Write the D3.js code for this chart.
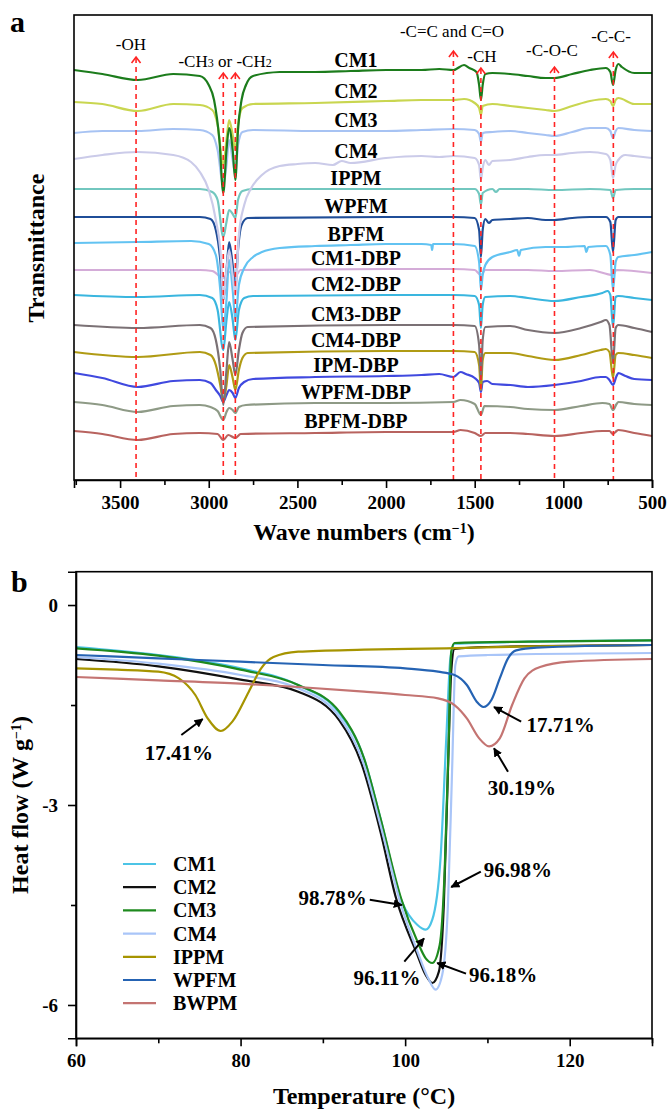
<!DOCTYPE html>
<html>
<head>
<meta charset="utf-8">
<script src="https://cdn.jsdelivr.net/npm/d3@7"></script>
<style>
  body { margin: 0; background: #fff; }
  svg text { font-family: "Liberation Serif", "Times New Roman", serif; }
</style>
</head>
<body>
<svg id="fig" width="667" height="1110"></svg>
<script>
// ---------- panel a : FTIR spectra (wave number, transmittance a.u.) ----------
const ftirNames = ["CM1", "CM2", "CM3", "CM4", "IPPM", "WPFM", "BPFM",
  "CM1-DBP", "CM2-DBP", "CM3-DBP", "CM4-DBP", "IPM-DBP", "WPFM-DBP", "BPFM-DBP"];
const ftirColors = ["#1c7c1c", "#c9d650", "#a7c3f3", "#cbcbe9", "#72c7bf", "#1f4d98", "#62c3f2",
  "#d4acd8", "#3ab6df", "#7b7175", "#b09b14", "#4049df", "#8e9a86", "#b8635f"];

const sCM1 = [[3760,410],[3600,406],[3400,400],[3200,406],[3050,404],[3000,395],[2970,380],[2940,340],[2918,287],[2900,330],[2885,352],[2865,330],[2850,300],[2835,350],[2815,380],[2790,395],[2750,404],[2600,408],[2400,408],[2200,409],[2000,410],[1800,410],[1700,411],[1620,410],[1560,415],[1530,412],[1490,408],[1475,395],[1465,380],[1455,395],[1440,406],[1400,407],[1300,406],[1200,404],[1100,402],[1050,402],[950,406],[850,410],[760,412],[735,408],[720,395],[705,410],[690,416],[670,413],[600,407],[500,407]];
const sCM2 = [[3760,378],[3600,376],[3400,369],[3200,376],[3050,375],[2980,370],[2950,355],[2918,315],[2900,340],[2885,360],[2865,345],[2850,330],[2835,355],[2810,372],[2750,376],[2400,377],[2000,379],[1800,380],[1620,380],[1560,381],[1500,377],[1475,372],[1465,365],[1455,374],[1400,376],[1300,374],[1200,372],[1100,370],[1050,369],[950,374],[850,379],[760,381],[735,379],[720,374],[705,380],[690,382],[600,376],[500,376]];
const sCM3 = [[3760,347],[3600,349],[3400,349],[3200,351],[3050,350],[2980,345],[2950,330],[2918,295],[2900,315],[2885,340],[2865,320],[2850,305],[2835,335],[2810,348],[2750,350],[2400,349],[2000,349],[1800,350],[1620,351],[1500,350],[1475,346],[1465,338],[1455,347],[1400,348],[1300,349],[1200,347],[1100,345],[1050,344],[950,348],[850,352],[760,352],[735,349],[720,342],[705,349],[690,352],[600,350],[500,349]];
const sCM4 = [[3760,321],[3600,325],[3400,328],[3200,325],[3100,318],[3050,308],[3000,290],[2960,260],[2930,220],[2918,180],[2900,210],[2885,230],[2865,205],[2850,185],[2830,245],[2800,275],[2760,292],[2700,305],[2600,314],[2500,316],[2400,317],[2300,315],[2250,319],[2200,317],[2000,322],[1800,324],[1700,323],[1620,324],[1500,322],[1475,315],[1465,300],[1455,312],[1440,320],[1420,315],[1400,319],[1300,320],[1200,323],[1100,325],[1050,325],[950,327],[850,328],[760,326],[735,320],[720,302],[705,315],[690,320],[650,325],[600,324],[500,322]];
const sIPPM = [[3760,291],[3400,291],[3050,291],[2980,288],[2950,280],[2918,243],[2900,258],[2885,270],[2865,266],[2850,262],[2835,280],[2810,289],[2750,291],[2000,291],[1620,291],[1500,291],[1475,286],[1465,275],[1455,287],[1400,291],[1380,288],[1360,291],[1200,291],[1050,290],[850,291],[735,290],[720,282],[705,290],[600,291],[500,291]];
const sWPFM = [[3760,263],[3400,263],[3050,263],[2990,261],[2960,250],[2935,220],[2918,180],[2900,210],[2885,238],[2865,215],[2850,190],[2835,230],[2815,255],[2780,262],[2000,263],[1620,263],[1500,262],[1475,250],[1465,223],[1455,250],[1440,261],[1420,257],[1400,260],[1300,261],[1200,262],[1100,260],[1050,260],[950,262],[850,263],[760,263],[735,258],[720,228],[705,260],[690,263],[500,263]];
const sBPFM = [[3760,237],[3400,238],[3100,239],[3000,236],[2960,225],[2935,190],[2918,150],[2900,180],[2885,220],[2865,190],[2850,160],[2830,195],[2800,212],[2750,223],[2700,228],[2600,232],[2400,234],[2200,235],[2000,236],[1800,236],[1745,235],[1740,230],[1735,236],[1620,236],[1500,234],[1475,218],[1465,190],[1455,205],[1440,215],[1400,223],[1300,228],[1260,230],[1250,224],[1240,230],[1100,233],[1000,233],[880,234],[870,228],[860,233],[760,234],[735,225],[720,190],[705,218],[690,223],[600,225],[500,228]];
const sCM1DBP = [[3760,210],[3400,210],[3050,210],[2980,209],[2918,202],[2885,208],[2850,204],[2820,210],[2000,211],[1620,211],[1500,210],[1465,205],[1440,210],[1200,210],[1050,209],[850,210],[720,205],[700,210],[500,207]];
const sCM2DBP = [[3760,185],[3400,183],[3050,185],[2980,182],[2950,170],[2918,130],[2900,160],[2885,178],[2865,160],[2850,140],[2830,170],[2800,182],[2750,184],[2000,185],[1620,185],[1500,184],[1475,175],[1465,152],[1455,175],[1440,183],[1300,184],[1200,182],[1050,179],[900,183],[780,187],[750,189],[735,185],[720,153],[705,183],[690,184],[600,182],[500,180]];
const sCM3DBP = [[3760,155],[3400,152],[3050,155],[2990,152],[2960,140],[2935,110],[2918,75],[2900,110],[2885,138],[2865,120],[2850,105],[2830,130],[2810,147],[2780,153],[2000,155],[1620,155],[1500,154],[1475,135],[1465,100],[1455,140],[1440,153],[1300,154],[1200,150],[1050,147],[900,152],[790,158],[760,160],[740,155],[720,117],[705,152],[690,155],[600,152],[500,148]];
const sCM4DBP = [[3760,128],[3400,123],[3050,128],[2990,125],[2960,115],[2935,95],[2918,78],[2900,95],[2885,115],[2865,102],[2850,90],[2830,110],[2810,122],[2780,127],[2000,129],[1620,129],[1500,128],[1475,115],[1465,90],[1455,120],[1440,127],[1300,127],[1200,124],[1050,120],[900,125],[790,130],[760,131],[740,128],[720,102],[705,125],[690,127],[600,125],[500,122]];
const sIPMDBP = [[3760,107],[3600,102],[3400,93],[3200,99],[3050,100],[2990,97],[2960,90],[2935,84],[2918,78],[2900,85],[2885,90],[2865,87],[2850,82],[2830,92],[2800,98],[2750,101],[2400,103],[2000,104],[1800,105],[1700,106],[1620,103],[1580,108],[1550,106],[1500,102],[1475,97],[1465,88],[1455,98],[1430,99],[1400,96],[1300,95],[1200,93],[1050,95],[900,99],[790,103],[760,103],[740,100],[720,95],[700,104],[690,107],[650,104],[600,101],[500,100]];
const sWPFMDBP = [[3760,78],[3600,75],[3400,68],[3200,74],[3050,75],[2990,73],[2950,69],[2918,60],[2900,68],[2885,72],[2865,70],[2850,67],[2830,73],[2790,75],[2400,77],[2000,77],[1620,78],[1580,80],[1500,76],[1465,65],[1445,74],[1300,73],[1200,71],[1050,70],[900,74],[780,77],[740,76],[720,70],[700,76],[690,78],[600,76],[500,75]];
const sBPFMDBP = [[3760,49],[3600,46],[3400,40],[3200,46],[3050,47],[2950,46],[2918,40],[2890,45],[2850,42],[2820,46],[2400,47],[2000,48],[1620,48],[1580,50],[1500,47],[1465,44],[1440,47],[1300,47],[1200,46],[1050,44],[900,47],[780,49],[740,49],[720,46],[700,49],[690,50],[600,47],[500,44]];

const ftirSeries = [sCM1, sCM2, sCM3, sCM4, sIPPM, sWPFM, sBPFM,
  sCM1DBP, sCM2DBP, sCM3DBP, sCM4DBP, sIPMDBP, sWPFMDBP, sBPFMDBP];

const xTicksA = [3500, 3000, 2500, 2000, 1500, 1000, 500];
const xMinorA = [3750, 3250, 2750, 2250, 1750, 1250, 750];

// band markers: wave number, arrow tip (a.u.)
const bandWn = [3410, 2918, 2850, 1620, 1465, 1050, 718];
const bandTip = [423, 407, 407, 429, 412, 413, 428];
// band labels: text, wave number of centre, baseline (a.u.)
const bandLabels = [
  { t: ["-OH"], wn: 3439, v: 430 },
  { t: ["-CH", "3", " or -CH", "2"], wn: 2908, v: 413 },
  { t: ["-C=C and C=O"], wn: 1628, v: 443 },
  { t: ["-CH"], wn: 1459, v: 418 },
  { t: ["-C-O-C"], wn: 1064, v: 424 },
  { t: ["-C-C-"], wn: 731, v: 438 }
];

// ---------- panel b : DSC curves (temperature C, heat flow W/g) ----------
const dscNames = ["CM1", "CM2", "CM3", "CM4", "IPPM", "WPFM", "BWPM"];
const dscColors = ["#4cc4e6", "#111111", "#1e8a1e", "#a9c5f8", "#a69400", "#2563b3", "#c47472"];

const dCM1 = [[60,-0.63],[70,-0.75],[80,-0.95],[87,-1.2],[92,-1.62],[95,-2.3],[97,-3.2],[99.6,-4.45],[101.5,-4.8],[102.5,-4.87],[103.3,-4.72],[104.3,-3.8],[105,-2.0],[105.5,-0.8],[106,-0.58],[115,-0.55],[130,-0.53]];
const dCM2 = [[60,-0.81],[70,-0.92],[80,-1.12],[87,-1.3],[92,-1.73],[94.7,-2.38],[97,-3.4],[98.9,-4.4],[101.4,-5.22],[102.5,-5.55],[103.3,-5.67],[104.1,-5.5],[104.7,-4.5],[105.2,-2.5],[105.6,-1.0],[106,-0.66],[110,-0.63],[130,-0.6]];
const dCM3 = [[60,-0.65],[70,-0.76],[80,-0.97],[87,-1.2],[92,-1.6],[95,-2.3],[97,-3.2],[99.5,-4.4],[101.5,-5.05],[102.5,-5.3],[103.3,-5.37],[104.2,-5.1],[104.8,-4.0],[105.3,-2.0],[105.6,-0.7],[106,-0.57],[115,-0.55],[130,-0.53]];
const dCM4 = [[60,-0.78],[70,-0.88],[80,-1.05],[87,-1.25],[92,-1.68],[95,-2.4],[97,-3.3],[99.5,-4.5],[101.5,-5.2],[102.8,-5.6],[103.7,-5.77],[104.5,-5.55],[105.2,-4.5],[105.7,-2.5],[106.1,-0.9],[106.5,-0.77],[110,-0.75],[130,-0.72]];
const dIPPM = [[60,-0.95],[65,-0.97],[70,-1.0],[72.5,-1.1],[74.5,-1.35],[76,-1.7],[77.6,-1.89],[79,-1.75],[81,-1.3],[82.5,-0.95],[84,-0.78],[87,-0.7],[95,-0.67],[105,-0.65],[115,-0.62],[130,-0.6]];
const dWPFM = [[60,-0.75],[70,-0.8],[80,-0.85],[90,-0.9],[100,-0.95],[104,-1.0],[106,-1.05],[107.5,-1.2],[108.7,-1.45],[109.5,-1.53],[110.5,-1.42],[111.5,-1.1],[112.5,-0.8],[113.5,-0.68],[116,-0.64],[130,-0.6]];
const dBWPM = [[60,-1.08],[70,-1.13],[80,-1.18],[87,-1.23],[95,-1.3],[100,-1.35],[104,-1.4],[106,-1.5],[107.5,-1.7],[109,-2.0],[110.2,-2.12],[111.5,-2.0],[113,-1.5],[114.5,-1.1],[116.4,-0.93],[120,-0.85],[130,-0.81]];
const dscSeries = [dCM1, dCM2, dCM3, dCM4, dIPPM, dWPFM, dBWPM];

const xTicksB = [60, 80, 100, 120];
const xMinorB = [70, 90, 110, 130];
const yTicksB = [0, -3, -6];
const yMinorB = [-1.5, -4.5];

// enthalpy annotations: label, label centre, arrow tail, arrow head (data units)
const dscNotes = [
  { t: "17.41%", x: 72.5, y: -2.33, x1: 72.8, y1: -1.95, x2: 75.4, y2: -1.71 },
  { t: "17.71%", x: 118.9, y: -1.9, x1: 114.1, y1: -1.75, x2: 110.8, y2: -1.53 },
  { t: "30.19%", x: 114.2, y: -2.85, x1: 112.5, y1: -2.5, x2: 110.8, y2: -2.15 },
  { t: "96.98%", x: 113.7, y: -4.08, x1: 109.2, y1: -4.0, x2: 105.6, y2: -4.23 },
  { t: "98.78%", x: 91.2, y: -4.5, x1: 95.7, y1: -4.42, x2: 99.6, y2: -4.5 },
  { t: "96.11%", x: 97.8, y: -5.7, x1: 99.9, y1: -5.35, x2: 102.3, y2: -5.0 },
  { t: "96.18%", x: 111.9, y: -5.65, x1: 107.4, y1: -5.53, x2: 103.9, y2: -5.37 }
];

// ---------------------------------------------------------------------------
const svg = d3.select("#fig");
const plainNum = d => String(d);   // keep hyphen minus like the original

// ===== panel a =====
const xA = d3.scaleLinear().domain([3760, 500]).range([74, 652]);
const yA = d3.scaleLinear().domain([0, 465]).range([480, 15]);

const lineA = d3.line()
  .x(d => xA(d[0]))
  .y(d => yA(d[1]))
  .curve(d3.curveMonotoneX);

const gA = svg.append("g");

// spectra, bottom one first so the top ones stay in front
for (let i = ftirSeries.length - 1; i >= 0; i--) {
  gA.append("path")
    .attr("d", lineA(ftirSeries[i]))
    .attr("fill", "none")
    .attr("stroke", ftirColors[i])
    .attr("stroke-width", 2.2)
    .attr("stroke-linejoin", "round");
}

// value of a series at a given wave number (for label placement)
function valueAt(s, wn) {
  for (let k = 0; k < s.length - 1; k++) {
    if (s[k][0] >= wn && s[k + 1][0] <= wn) {
      const f = (s[k][0] - wn) / (s[k][0] - s[k + 1][0]);
      return s[k][1] + f * (s[k + 1][1] - s[k][1]);
    }
  }
  return s[0][1];
}

ftirNames.forEach((n, i) => {
  gA.append("text")
    .attr("x", xA(2170))
    .attr("y", yA(valueAt(ftirSeries[i], 2170)) - 11)
    .attr("dy", "0.35em")
    .attr("text-anchor", "middle")
    .attr("font-size", 20)
    .attr("font-weight", "bold")
    .text(n);
});

// red dashed band markers
bandWn.forEach((wn, i) => {
  const x = xA(wn), top = yA(bandTip[i]);
  gA.append("line")
    .attr("x1", x).attr("x2", x)
    .attr("y1", top + 1).attr("y2", yA(0))
    .attr("stroke", "#ff2424")
    .attr("stroke-width", 1.6)
    .attr("stroke-dasharray", "5,4");
  gA.append("path")
    .attr("d", `M${x - 4.5},${top + 6} L${x},${top} L${x + 4.5},${top + 6}`)
    .attr("fill", "none")
    .attr("stroke", "#ff2424")
    .attr("stroke-width", 1.6);
});

bandLabels.forEach(b => {
  const t = gA.append("text")
    .attr("x", xA(b.wn))
    .attr("y", yA(b.v))
    .attr("text-anchor", "middle")
    .attr("font-size", 17);
  b.t.forEach(s => {
    const sub = (s === "3" || s === "2");
    t.append("tspan")
      .attr("font-size", sub ? 12 : 17)
      .text(s);
  });
});

// frame and axis
gA.append("rect")
  .attr("x", 74).attr("y", 15)
  .attr("width", 578).attr("height", 465)
  .attr("fill", "none").attr("stroke", "#000").attr("stroke-width", 1.6);

gA.append("g")
  .attr("transform", `translate(0,${yA(0)})`)
  .call(d3.axisBottom(xA).tickValues(xTicksA).tickSize(8).tickPadding(8).tickFormat(plainNum));
gA.append("g")
  .attr("transform", `translate(0,${yA(0)})`)
  .call(d3.axisBottom(xA).tickValues(xMinorA).tickSize(5).tickFormat(""))
  .call(g => g.select(".domain").remove());

// ===== panel b =====
const xB = d3.scaleLinear().domain([60, 130]).range([76, 652]);
const yB = d3.scaleLinear().domain([-6.5, 0.5]).range([1038.3, 571.7]);

const lineB = d3.line()
  .x(d => xB(d[0]))
  .y(d => yB(d[1]))
  .curve(d3.curveMonotoneX);

const gB = svg.append("g");

dscSeries.forEach((s, i) => {
  gB.append("path")
    .attr("d", lineB(s))
    .attr("fill", "none")
    .attr("stroke", dscColors[i])
    .attr("stroke-width", 2.2);
});

svg.append("defs").append("marker")
  .attr("id", "head")
  .attr("viewBox", "0 0 10 10")
  .attr("refX", 9).attr("refY", 5)
  .attr("markerWidth", 4.5).attr("markerHeight", 4.5)
  .attr("markerUnits", "strokeWidth")
  .attr("orient", "auto")
  .append("path")
  .attr("d", "M0,0 L10,5 L0,10 Z")
  .attr("fill", "#000");

dscNotes.forEach(n => {
  gB.append("line")
    .attr("x1", xB(n.x1)).attr("y1", yB(n.y1))
    .attr("x2", xB(n.x2)).attr("y2", yB(n.y2))
    .attr("stroke", "#000")
    .attr("stroke-width", 2)
    .attr("marker-end", "url(#head)");
  gB.append("text")
    .attr("x", xB(n.x))
    .attr("y", yB(n.y))
    .attr("text-anchor", "middle")
    .attr("font-size", 21)
    .attr("font-weight", "bold")
    .text(n.t);
});

// legend
dscNames.forEach((n, i) => {
  const y = 864 + i * 23.2;
  gB.append("line")
    .attr("x1", 123).attr("x2", 156)
    .attr("y1", y).attr("y2", y)
    .attr("stroke", dscColors[i]).attr("stroke-width", 2.2);
  gB.append("text")
    .attr("x", 173).attr("y", y + 7)
    .attr("font-size", 20).attr("font-weight", "bold")
    .text(n);
});

gB.append("rect")
  .attr("x", 76).attr("y", yB(0.5))
  .attr("width", 576).attr("height", yB(-6.5) - yB(0.5))
  .attr("fill", "none").attr("stroke", "#000").attr("stroke-width", 1.6);

gB.append("g")
  .attr("transform", `translate(0,${yB(-6.5)})`)
  .call(d3.axisBottom(xB).tickValues(xTicksB).tickSize(8).tickPadding(7).tickFormat(plainNum));
gB.append("g")
  .attr("transform", `translate(0,${yB(-6.5)})`)
  .call(d3.axisBottom(xB).tickValues(xMinorB).tickSize(5).tickFormat(""))
  .call(g => g.select(".domain").remove());
gB.append("g")
  .attr("transform", `translate(${xB(60)},0)`)
  .call(d3.axisLeft(yB).tickValues(yTicksB).tickSize(8).tickPadding(10).tickFormat(plainNum));
gB.append("g")
  .attr("transform", `translate(${xB(60)},0)`)
  .call(d3.axisLeft(yB).tickValues(yMinorB).tickSize(5).tickFormat(""))
  .call(g => g.select(".domain").remove());

// shared axis styling
svg.selectAll(".domain").attr("stroke-width", 1.6);
svg.selectAll(".tick line").attr("stroke-width", 1.6);
svg.selectAll(".tick text")
  .attr("font-size", 19)
  .attr("font-weight", "bold")
  .attr("font-family", "'Liberation Serif', serif");

// ===== titles =====
function title(x, y, rot, parts) {
  const t = svg.append("text")
    .attr("transform", `translate(${x},${y}) rotate(${rot})`)
    .attr("text-anchor", "middle")
    .attr("font-size", 24)
    .attr("font-weight", "bold");
  parts.forEach(p => {
    const s = t.append("tspan").text(p.s);
    if (p.sup) s.attr("font-size", 14).attr("baseline-shift", "super");
  });
}
title(364, 540, 0, [{ s: "Wave numbers (cm" }, { s: "−1", sup: true }, { s: ")" }]);
title(44, 248, -90, [{ s: "Transmittance" }]);
title(364, 1104, 0, [{ s: "Temperature (°C)" }]);
title(28, 805, -90, [{ s: "Heat flow (W g" }, { s: "−1", sup: true }, { s: ")" }]);

svg.append("text").attr("x", 10).attr("y", 32)
  .attr("font-size", 30).attr("font-weight", "bold").text("a");
svg.append("text").attr("x", 11).attr("y", 592)
  .attr("font-size", 30).attr("font-weight", "bold").text("b");
</script>
</body>
</html>
